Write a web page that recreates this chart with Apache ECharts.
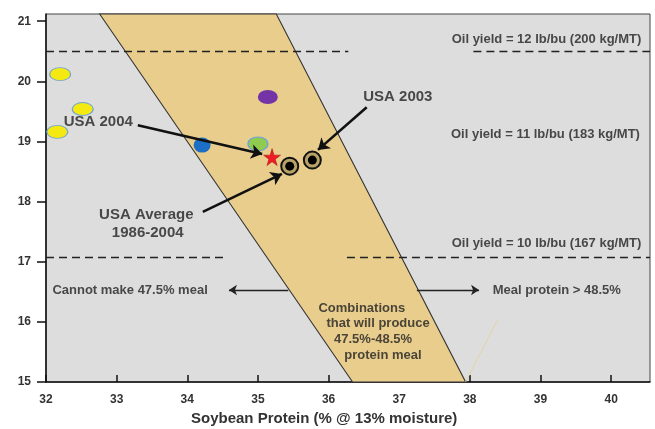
<!DOCTYPE html>
<html>
<head>
<meta charset="utf-8">
<script src="https://cdn.jsdelivr.net/npm/echarts@6/dist/echarts.min.js"></script>
<style>
html,body{margin:0;padding:0;background:#fff;}
#c{width:655px;height:429px;}
</style>
</head>
<body>
<div id="c"></div>
<script>
// Axis ticks
var xTicks = [32, 33, 34, 35, 36, 37, 38, 39, 40];
var yTicks = [15, 16, 17, 18, 19, 20, 21];

// Band of combinations producing 47.5%-48.5% meal (polygon vertices)
var bandX = [32.76, 36.34, 37.94, 35.26];
var bandY = [21.12, 15, 15, 21.12];

// Oil yield dashed lines (segments)
var oilLineY = [20.5, 20.5, 17.08, 17.08];
var oilLineX1 = [32, 38.05, 32, 36.26];
var oilLineX2 = [36.28, 40.55, 34.56, 40.55];

// Points
var yellowX = [32.2, 32.52, 32.16];
var yellowY = [20.12, 19.54, 19.16];
var blueX = [34.21], blueY = [18.94];
var purpleX = [35.14], purpleY = [19.74];
var greenX = [35.0], greenY = [18.96];
var starX = [35.2], starY = [18.74];
var usaX = [35.45, 35.77], usaY = [18.59, 18.69];

// Text annotations
var noteText = ['Oil yield = 12 lb/bu (200 kg/MT)', 'Oil yield = 11 lb/bu (183 kg/MT)', 'Oil yield = 10 lb/bu (167 kg/MT)',
  'Meal protein > 48.5%', 'Cannot make 47.5% meal', 'Combinations', 'that will produce', '47.5%-48.5%', 'protein meal'];
var noteX = [39.085, 39.07, 39.085, 39.23, 33.19, 36.47, 36.70, 36.63, 36.77];
var noteY = [20.70, 19.11, 17.31, 16.53, 16.53, 16.23, 15.98, 15.70, 15.45];

var bigText = ['USA 2004', 'USA 2003', 'USA Average', '1986-2004'];
var bigX = [32.74, 36.98, 33.42, 33.44];
var bigY = [19.32, 19.74, 17.78, 17.48];

// Arrows: thin ones and thick ones
var thinX1 = [37.25, 35.43], thinY1 = [16.53, 16.53];
var thinX2 = [38.13, 34.59], thinY2 = [16.53, 16.53];
var thickX1 = [33.30, 36.54, 34.22], thickY1 = [19.27, 19.57, 17.83];
var thickX2 = [35.06, 35.85, 35.34], thickY2 = [18.79, 18.86, 18.46];

// faint stray line
var strayX = [37.94, 38.39], strayY = [15, 16.03];

function pts(xs, ys) { return xs.map(function (x, i) { return [x, ys[i]]; }); }
function segs(x1, y1, x2, y2) {
  return x1.map(function (x, i) { return { coords: [[x, y1[i]], [x2[i], y2[i]]] }; });
}

var chart = echarts.init(document.getElementById('c'));
var FONT = '"Liberation Sans", Arial, sans-serif';
var starPath = 'path://M50,0 L61,35 L98,35 L68,57 L79,91 L50,70 L21,91 L32,57 L2,35 L39,35 Z';

var series = [];
// Band
series.push({
  type: 'custom',
  silent: true,
  z: 1,
  data: [0],
  renderItem: function (params, api) {
    var p = bandX.map(function (x, i) { return api.coord([x, bandY[i]]); });
    return {
      type: 'polygon',
      shape: { points: p },
      style: { fill: '#e9cd8d', stroke: '#333', lineWidth: 1.1 }
    };
  }
});
// Dashed lines
series.push({
  type: 'lines', coordinateSystem: 'cartesian2d', silent: true, z: 2,
  symbol: 'none',
  lineStyle: { color: '#222', width: 1.4, type: [8, 5], opacity: 1 },
  data: oilLineY.map(function (y, i) { return { coords: [[oilLineX1[i], y], [oilLineX2[i], y]] }; })
});
// stray line
series.push({
  type: 'lines', coordinateSystem: 'cartesian2d', silent: true, z: 2,
  symbol: 'none',
  lineStyle: { color: '#e6d3a4', width: 1, opacity: 1 },
  data: [{ coords: pts(strayX, strayY) }]
});
// Thin arrows
series.push({
  type: 'lines', coordinateSystem: 'cartesian2d', silent: true, z: 5,
  symbol: ['none', 'arrow'], symbolSize: 8,
  lineStyle: { color: '#222', width: 1.3, opacity: 1 },
  data: segs(thinX1, thinY1, thinX2, thinY2)
});
// Thick arrows
series.push({
  type: 'lines', coordinateSystem: 'cartesian2d', silent: true, z: 6,
  symbol: ['none', 'arrow'], symbolSize: 11,
  lineStyle: { color: '#111', width: 2.6, opacity: 1 },
  data: segs(thickX1, thickY1, thickX2, thickY2)
});
// Points
series.push({
  type: 'scatter', z: 4, symbol: 'circle', symbolSize: [21, 13],
  itemStyle: { color: '#f4ea12', borderColor: '#6fa3d6', borderWidth: 1, opacity: 1 },
  data: pts(yellowX, yellowY)
});
series.push({
  type: 'scatter', z: 4, symbol: 'circle', symbolSize: [17, 15],
  itemStyle: { color: '#1c6fc4', opacity: 1 },
  data: pts(blueX, blueY)
});
series.push({
  type: 'scatter', z: 4, symbol: 'circle', symbolSize: [20, 14],
  itemStyle: { color: '#7434a8', opacity: 1 },
  data: pts(purpleX, purpleY)
});
series.push({
  type: 'scatter', z: 4, symbol: 'circle', symbolSize: [20, 14],
  itemStyle: { color: '#8ecb4e', borderColor: '#6fa3d6', borderWidth: 1.2, opacity: 1 },
  data: pts(greenX, greenY)
});
series.push({
  type: 'scatter', z: 7, symbol: starPath, symbolSize: 17,
  itemStyle: { color: '#ee1c24', borderColor: '#a01010', borderWidth: 0.5, opacity: 1 },
  data: pts(starX, starY)
});
series.push({
  type: 'scatter', z: 7, symbol: 'circle', symbolSize: 17,
  itemStyle: { color: '#b8a266', borderColor: '#111', borderWidth: 2, opacity: 1 },
  data: pts(usaX, usaY)
});
series.push({
  type: 'scatter', z: 8, symbol: 'circle', symbolSize: 9,
  itemStyle: { color: '#000', opacity: 1 },
  data: pts(usaX, usaY)
});
// Texts
series.push({
  type: 'scatter', z: 9, silent: true, symbolSize: 1,
  itemStyle: { color: 'rgba(0,0,0,0)' },
  label: {
    show: true, position: 'inside', color: '#222',
    fontFamily: FONT, fontWeight: 'bold', fontSize: 13,
    formatter: function (p) { return p.data[2]; }
  },
  data: noteX.map(function (x, i) { return [x, noteY[i], noteText[i]]; })
});
series.push({
  type: 'scatter', z: 9, silent: true, symbolSize: 1,
  itemStyle: { color: 'rgba(0,0,0,0)' },
  label: {
    show: true, position: 'inside', color: '#222',
    fontFamily: FONT, fontWeight: 'bold', fontSize: 15,
    formatter: function (p) { return p.data[2]; }
  },
  data: bigX.map(function (x, i) { return [x, bigY[i], bigText[i]]; })
});

chart.setOption({
  animation: false,
  backgroundColor: '#fff',
  grid: {
    left: 46, right: 5, top: 14, bottom: 47,
    show: true, backgroundColor: '#dddddd', borderColor: '#444', borderWidth: 1
  },
  xAxis: {
    type: 'value', min: 32, max: 40.55, interval: 1,
    axisLine: { show: true, onZero: false, lineStyle: { color: '#111', width: 1.5 } },
    axisTick: { show: true, inside: true, length: 7, lineStyle: { color: '#111', width: 1.5 } },
    splitLine: { show: false },
    axisLabel: {
      margin: 12, color: '#333', fontFamily: FONT, fontWeight: 'bold', fontSize: 12,
      showMaxLabel: false,
      formatter: function (v) { return xTicks.indexOf(v) >= 0 ? String(v) : ''; }
    }
  },
  yAxis: {
    type: 'value', min: 15, max: 21.12, interval: 1,
    axisLine: { show: true, onZero: false, lineStyle: { color: '#111', width: 1.5 } },
    axisTick: { show: true, inside: false, length: 9, lineStyle: { color: '#111', width: 1.5 } },
    splitLine: { show: false },
    axisLabel: {
      margin: 15, color: '#333', fontFamily: FONT, fontWeight: 'bold', fontSize: 12,
      showMaxLabel: false,
      formatter: function (v) { return yTicks.indexOf(v) >= 0 ? String(v) : ''; }
    }
  },
  graphic: [{
    type: 'text', left: 191, top: 411, silent: true,
    style: { text: 'Soybean Protein (% @ 13% moisture)', fill: '#333', font: 'bold 15px ' + FONT }
  }],
  series: series
});
</script>
</body>
</html>
